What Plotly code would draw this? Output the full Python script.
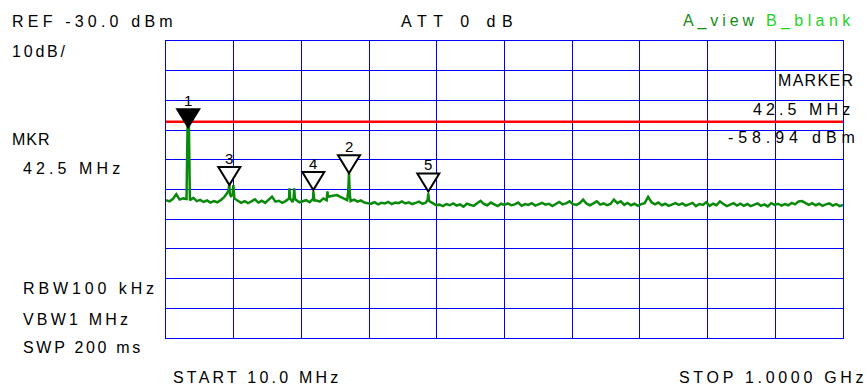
import plotly.graph_objects as go

# ---------------- data ----------------
START_MHZ = 10.0
STOP_MHZ = 1000.0
REF_LEVEL_DBM = -30.0
DB_PER_DIV = 10
DISPLAY_LINE_DBM = -57.2

# sweep trace: base grid every 5 MHz
base_freq_mhz = list(range(10, 1001, 5))
base_level_dbm = [
    -83.6, -84.0, -83.2, -81.6, -83.4, -83.0, -83.2, -83.6, -82.8, -83.9,
    -83.5, -84.2, -83.7, -84.4, -83.9, -84.3, -83.6, -82.6, -81.0, -82.2,
    -83.0, -83.8, -84.5, -83.9, -84.6, -84.0, -83.3, -84.4, -83.8, -84.5,
    -83.6, -82.4, -84.1, -83.8, -84.5, -83.9, -83.0, -84.2, -83.5, -84.3,
    -84.0, -83.6, -84.3, -83.2, -83.7, -84.1, -83.0, -83.6, -82.3, -82.0,
    -81.9, -82.5, -83.0, -83.6, -83.9, -83.4, -84.1, -83.7, -84.4, -84.6,
    -84.8, -84.3, -85.0, -84.5, -84.7, -84.2, -84.9, -84.4, -84.6, -84.0,
    -84.7, -84.3, -84.9, -84.5, -84.1, -84.8, -84.4, -83.9, -84.6, -85.3,
    -85.1, -85.6, -84.9, -85.3, -84.7, -85.4, -85.0, -85.8, -84.8, -85.2,
    -85.5, -84.6, -83.8, -84.9, -85.3, -84.4, -85.1, -85.6, -84.8, -85.2,
    -84.7, -85.3, -85.0, -84.4, -85.5, -84.9, -85.2, -84.6, -85.4, -85.0,
    -84.5, -85.1, -84.8, -85.6, -84.9, -84.2, -85.0, -84.7, -84.0, -84.9,
    -85.2, -84.6, -83.4, -84.8, -85.3, -84.6, -84.0, -85.1, -84.7, -85.3,
    -84.9, -83.4, -84.6, -84.0, -85.2, -84.5, -85.3, -84.8, -85.5, -84.9,
    -84.6, -82.5, -84.3, -85.0, -84.4, -85.3, -84.8, -85.5, -85.1, -84.6,
    -85.2, -84.7, -85.4, -85.0, -84.5, -85.6, -84.9, -85.2, -84.3, -85.5,
    -84.8, -85.3, -84.0, -84.9, -85.6, -85.1, -84.6, -85.4, -84.8, -85.5,
    -84.9, -85.6, -85.1, -84.7, -85.5, -85.0, -85.7, -84.6, -85.2, -84.8,
    -85.4, -84.9, -85.3, -84.5, -85.0, -84.0, -83.9, -84.7, -85.2, -84.6,
    -85.3, -84.8, -85.5, -85.0, -84.7, -85.4, -84.9, -85.6, -85.2,
]

# narrow signal spikes
spike_freq_mhz = [41.5, 43.5, 101.5, 102.5, 103.5, 107.5, 108.5, 109.5,
                  190.5, 191.5, 196.5, 197.5, 198.5, 224.0, 225.5, 227.0,
                  246.0, 247.0, 276.5, 277.6, 278.7, 392.5, 393.6, 394.7]
spike_level_dbm = [-59.0, -59.0, -80.2, -78.3, -81.5, -81.8, -78.5, -82.0,
                   -79.6, -83.0, -83.2, -79.6, -83.0, -83.5, -80.6, -83.7,
                   -80.6, -82.5, -80.5, -74.5, -81.5, -83.5, -81.3, -84.0]

# markers
marker_labels = ["1", "2", "3", "4", "5"]
marker_freq_mhz = [42.5, 277.6, 102.6, 225.4, 393.6]
marker_level_dbm = [-59.0, -74.5, -78.5, -80.2, -80.7]
active_marker = "1"

# annotation texts
info_texts = [
    "REF -30.0 dBm", "10dB/", "ATT 0 dB", "A_view", "B_blank",
    "MKR", "42.5 MHz", "MARKER", "42.5 MHz", "-58.94 dBm",
    "RBW100 kHz", "VBW1 MHz", "SWP 200 ms", "START 10.0 MHz", "STOP 1.0000 GHz",
]

# ---------------- layout / style ----------------
FIG_W, FIG_H = 867, 385
PL, PR, PT, PB = 166, 843, 41, 338   # plot area in pixels
FONT = "Liberation Sans, Arial, sans-serif"
BLACK = "#000000"
GRID_BLUE = "#0000ff"
TRACE_GREEN = "#0a8a0a"

# (left px, baseline px, letter spacing px, colour) for each info text
text_style = [
    (12, 27, 4.2, BLACK),
    (12, 57, 2.8, BLACK),
    (401, 27, 6.5, BLACK),
    (683, 27, 3.9, "#148c14"),
    (766, 27, 4.4, "#1ed41e"),
    (12, 145, 1.0, BLACK),
    (23, 174, 4.1, BLACK),
    (778, 86, 1.3, BLACK),
    (753, 115, 4.1, BLACK),
    (728, 143, 4.9, BLACK),
    (23, 294, 3.9, BLACK),
    (23, 325, 3.2, BLACK),
    (23, 353, 2.7, BLACK),
    (173, 383, 3.2, BLACK),
    (679, 383, 3.7, BLACK),
]


def px_to_paper_x(px):
    return (px - PL) / (PR - PL)


def px_to_paper_y(py):
    return (PB - py) / (PB - PT)


# merge trace
pts = sorted(zip(base_freq_mhz + spike_freq_mhz, base_level_dbm + spike_level_dbm))
trace_f = [p[0] for p in pts]
trace_l = [p[1] for p in pts]

fig = go.Figure()
fig.add_trace(go.Scatter(
    x=trace_f, y=trace_l, mode="lines",
    line=dict(color=TRACE_GREEN, width=2.5),
    hoverinfo="skip", showlegend=False,
))

shapes = []
# display line
shapes.append(dict(type="line", xref="paper", x0=0, x1=1, yref="y",
                   y0=DISPLAY_LINE_DBM, y1=DISPLAY_LINE_DBM,
                   line=dict(color="#ff0000", width=2.5), layer="above"))
# marker triangles
for lab, f, l in zip(marker_labels, marker_freq_mhz, marker_level_dbm):
    shapes.append(dict(
        type="path", xref="x", yref="y",
        xsizemode="pixel", ysizemode="pixel", xanchor=f, yanchor=l,
        path="M0,0 L-11,18 L11,18 Z",
        fillcolor=BLACK if lab == active_marker else "white",
        line=dict(color=BLACK, width=2), layer="above",
    ))

annotations = []
for lab, f, l in zip(marker_labels, marker_freq_mhz, marker_level_dbm):
    annotations.append(dict(
        x=f, y=l, xref="x", yref="y", text=lab, showarrow=False,
        yshift=27, xanchor="center", yanchor="middle",
        font=dict(family=FONT, size=15, color=BLACK),
        borderpad=0, borderwidth=0,
    ))

for txt, (lx, base, ls, col) in zip(info_texts, text_style):
    annotations.append(dict(
        x=px_to_paper_x(lx), y=px_to_paper_y(base - 5.5),
        xref="paper", yref="paper",
        text=f'<span style="letter-spacing:{ls}px">{txt}</span>',
        showarrow=False, xanchor="left", yanchor="middle",
        font=dict(family=FONT, size=16, color=col),
        borderpad=0, borderwidth=0,
    ))

axis_common = dict(
    showgrid=True, gridcolor=GRID_BLUE, gridwidth=1,
    showline=True, linecolor=GRID_BLUE, linewidth=1, mirror=True,
    zeroline=False, showticklabels=False, ticks="",
)

fig.update_layout(
    width=FIG_W, height=FIG_H,
    margin=dict(l=PL, r=FIG_W - PR, t=PT, b=FIG_H - PB, pad=0),
    paper_bgcolor="white", plot_bgcolor="white",
    xaxis=dict(range=[START_MHZ, STOP_MHZ], tick0=START_MHZ,
               dtick=(STOP_MHZ - START_MHZ) / 10, **axis_common),
    yaxis=dict(range=[REF_LEVEL_DBM - 10 * DB_PER_DIV, REF_LEVEL_DBM],
               dtick=DB_PER_DIV, tick0=REF_LEVEL_DBM, **axis_common),
    shapes=shapes, annotations=annotations,
    showlegend=False,
)

fig.write_html("out.html", config={"displayModeBar": False})
